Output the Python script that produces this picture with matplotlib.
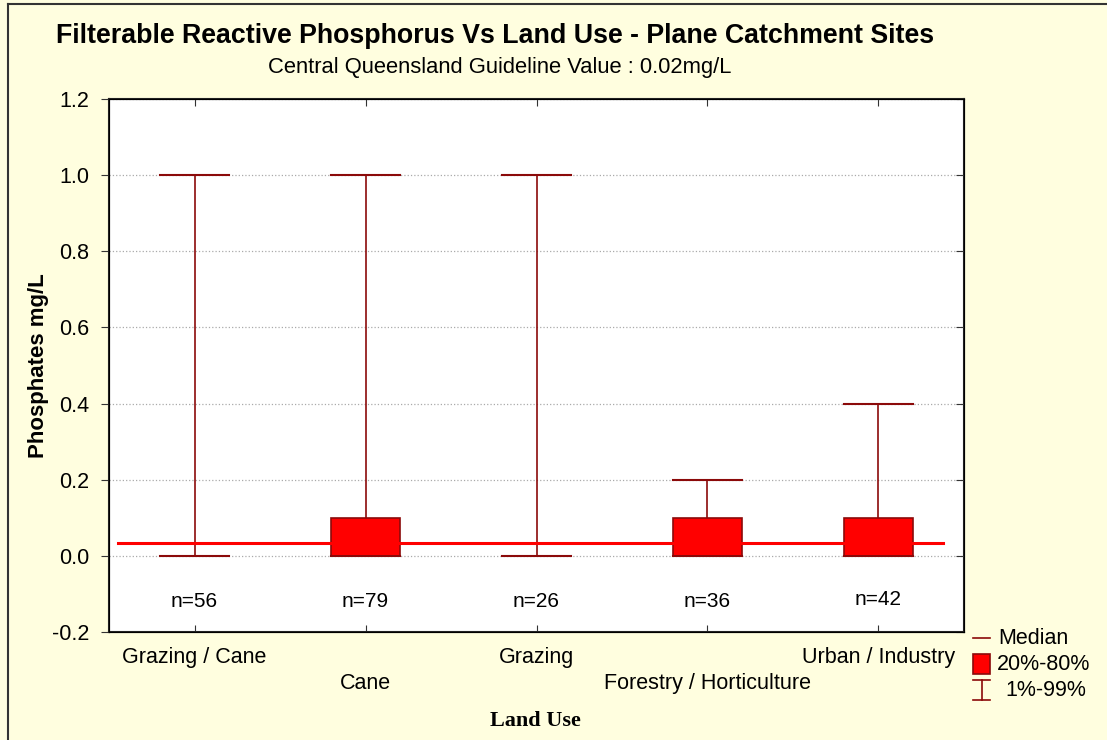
import matplotlib
matplotlib.use("Agg")
import matplotlib.pyplot as plt
from matplotlib.lines import Line2D
from matplotlib.patches import Rectangle

# land use groups and their summary statistics (mg/L)
land_use = ["Grazing / Cane", "Cane", "Grazing", "Forestry / Horticulture", "Urban / Industry"]
p01 = [0.0, 0.0, 0.0, 0.0, 0.0]
p20 = [0.0, 0.0, 0.0, 0.0, 0.0]
median = [0.0, 0.0, 0.0, 0.0, 0.0]
p80 = [0.0, 0.1, 0.0, 0.1, 0.1]
p99 = [1.0, 1.0, 1.0, 0.2, 0.4]
n_obs = [56, 79, 26, 36, 42]
n_label_y = [-0.12, -0.12, -0.12, -0.12, -0.115]
guideline = 0.034

bg = "#FFFEDF"
dark_red = "#8B0A0A"

plt.rcParams["font.family"] = ["Liberation Sans", "DejaVu Sans"]

fig = plt.figure(figsize=(11.07, 7.40), dpi=100, facecolor=bg)
ax = fig.add_axes([0.0985, 0.1459, 0.7723, 0.7203])
ax.set_facecolor("white")

x = list(range(len(land_use)))
box_w = 0.4
cap_w = 0.4

for i in x:
    # whisker and caps
    ax.plot([i, i], [p01[i], p99[i]], color=dark_red, lw=1.2, zorder=3)
    ax.plot([i - cap_w / 2, i + cap_w / 2], [p99[i], p99[i]], color=dark_red, lw=1.5, zorder=3)
    ax.plot([i - cap_w / 2, i + cap_w / 2], [p01[i], p01[i]], color=dark_red, lw=1.5, zorder=3)
    # 20%-80% box
    if p80[i] > p20[i]:
        ax.add_patch(Rectangle((i - box_w / 2, p20[i]), box_w, p80[i] - p20[i],
                               facecolor="#FF0000", edgecolor=dark_red, lw=1.2, zorder=4))
    ax.plot([i - box_w / 2, i + box_w / 2], [median[i], median[i]], color=dark_red, lw=1.2, zorder=5)
    ax.text(i, n_label_y[i], "n=%d" % n_obs[i], ha="center", va="center", fontsize=15)

# guideline value
ax.plot([-0.447, 4.38], [guideline, guideline], color="#FF0000", lw=2.2, zorder=6)

ax.set_xlim(-0.5, 4.5)
ax.set_ylim(-0.2, 1.2)
yt = [-0.2, 0.0, 0.2, 0.4, 0.6, 0.8, 1.0, 1.2]
ax.set_yticks(yt)
ax.set_yticklabels(["%.1f" % v for v in yt], fontsize=15.5)
ax.set_xticks(x)
ax.set_xticklabels([])
ax.tick_params(axis="x", direction="in", top=True, length=5, color="#333333")
ax.tick_params(axis="y", direction="out", length=6, color="#333333", pad=8)
ax.yaxis.grid(True, linestyle=":", color="#AAAAAA", lw=0.9)
ax.set_axisbelow(True)
for s in ax.spines.values():
    s.set_color("#222222")
    s.set_linewidth(1.5)

# right-hand inward ticks
axr = ax.twinx()
axr.set_ylim(ax.get_ylim())
axr.set_yticks(yt)
axr.set_yticklabels([])
axr.tick_params(axis="y", direction="in", length=6, color="#333333")

# staggered category labels
for i, name in enumerate(land_use):
    yy = -0.267 if i % 2 == 0 else -0.335
    ax.text(i, yy, name, ha="center", va="center", fontsize=15.5, clip_on=False)

ax.set_ylabel("Phosphates mg/L", fontsize=16, fontweight="bold", labelpad=2)
fig.text(0.484, 0.026, "Land Use", ha="center", va="center", fontsize=16,
         fontweight="bold", family=["Liberation Serif", "DejaVu Serif"])

fig.text(0.447, 0.951, "Filterable Reactive Phosphorus Vs Land Use - Plane Catchment Sites",
         ha="center", va="center", fontsize=19.3, fontweight="bold")
fig.text(0.451, 0.909, "Central Queensland Guideline Value : 0.02mg/L",
         ha="center", va="center", fontsize=15.8)

# legend
W, H = 1107.0, 740.0
lx0, lx1, lxm = 973 / W, 990 / W, 981.5 / W
fig.add_artist(Line2D([lx0, lx1], [1 - 638 / H, 1 - 638 / H], color=dark_red, lw=1.2))
fig.add_artist(Rectangle((lx0, 1 - 674 / H), 17 / W, 20 / H, facecolor="#FF0000",
                         edgecolor=dark_red, lw=1.2))
fig.add_artist(Line2D([lx0, lx1], [1 - 680 / H, 1 - 680 / H], color=dark_red, lw=1.2))
fig.add_artist(Line2D([lx0, lx1], [1 - 700 / H, 1 - 700 / H], color=dark_red, lw=1.2))
fig.add_artist(Line2D([lxm, lxm], [1 - 680 / H, 1 - 700 / H], color=dark_red, lw=1.2))
fig.text(998 / W, 1 - 638 / H, "Median", ha="left", va="center", fontsize=15.5)
fig.text(997 / W, 1 - 664 / H, "20%-80%", ha="left", va="center", fontsize=15.5)
fig.text(1005 / W, 1 - 691 / H, "1%-99%", ha="left", va="center", fontsize=15.5)

# outer frame
fig.add_artist(Line2D([8 / W, 8 / W], [0, 1 - 4 / H], color="#333333", lw=1.5))
fig.add_artist(Line2D([8 / W, 1], [1 - 4 / H, 1 - 4 / H], color="#333333", lw=1.5))

fig.savefig("out.png", dpi=100, facecolor=bg)
